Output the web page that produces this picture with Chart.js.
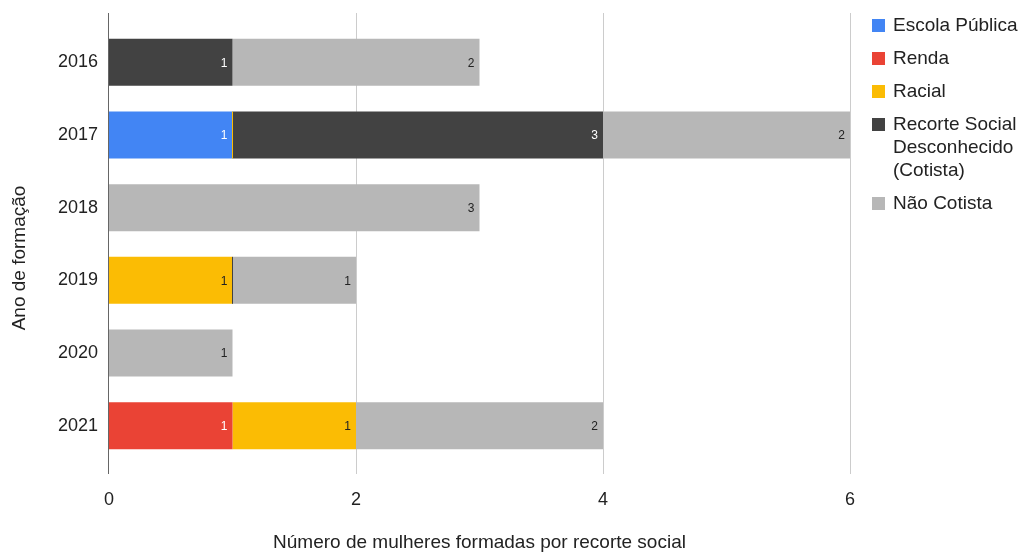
<!DOCTYPE html>
<html>
<head>
<meta charset="utf-8">
<script src="https://cdn.jsdelivr.net/npm/chart.js@4.4.1/dist/chart.umd.min.js"></script>
<style>
  html, body { margin: 0; padding: 0; background: #fff; }
</style>
</head>
<body>
<canvas id="chart" width="1024" height="553"></canvas>
<script>
// data
const years = ['2016', '2017', '2018', '2019', '2020', '2021'];
const escolaPublica = [null, 1, null, null, null, null];
const renda = [null, null, null, null, null, 1];
const racial = [null, 0, null, 1, null, 1];
const desconhecido = [1, 3, null, 0, null, null];
const naoCotista = [2, 2, 3, 1, 1, 2];
const xTicks = [0, 2, 4, 6];

const seriesNames = ['Escola Pública', 'Renda', 'Racial', 'Recorte Social\nDesconhecido\n(Cotista)', 'Não Cotista'];
const seriesData = [escolaPublica, renda, racial, desconhecido, naoCotista];
const seriesColors = ['#4285f4', '#ea4335', '#fbbc04', '#424242', '#b7b7b7'];
const labelColors = ['#ffffff', '#ffffff', '#222222', '#ffffff', '#222222'];

const FONT = 'Arial, "Liberation Sans", sans-serif';
const TEXT = '#222222';

// gridlines, axis line, value labels, legend, y title
const decor = {
  id: 'decor',
  beforeDatasetsDraw(chart) {
    const { ctx, chartArea, scales } = chart;
    ctx.save();
    ctx.lineWidth = 1;
    scales.x.ticks.forEach(t => {
      if (t.value === 0) return;
      const px = Math.round(scales.x.getPixelForValue(t.value)) + 0.5;
      ctx.strokeStyle = '#cccccc';
      ctx.beginPath();
      ctx.moveTo(px, chartArea.top - 13);
      ctx.lineTo(px, chartArea.bottom + 12);
      ctx.stroke();
    });
    ctx.restore();
  },
  afterDatasetsDraw(chart) {
    const { ctx, chartArea, scales } = chart;
    ctx.save();

    // zero-valued segments show as a hairline
    chart.data.datasets.forEach((ds, i) => {
      const meta = chart.getDatasetMeta(i);
      meta.data.forEach((el, j) => {
        const v = ds.data[j];
        if (v === null) return;
        if (v === 0) {
          ctx.fillStyle = ds.backgroundColor;
          ctx.fillRect(Math.round(el.x) - 1, el.y - el.height / 2, 1, el.height);
          return;
        }
        ctx.fillStyle = labelColors[i];
        ctx.font = '12px ' + FONT;
        ctx.textAlign = 'right';
        ctx.textBaseline = 'middle';
        ctx.fillText(String(v), el.x - 5, el.y + 1);
      });
    });

    // zero axis line
    const x0 = Math.round(scales.x.getPixelForValue(0)) - 0.5;
    ctx.strokeStyle = '#666666';
    ctx.lineWidth = 1;
    ctx.beginPath();
    ctx.moveTo(x0, chartArea.top - 13);
    ctx.lineTo(x0, chartArea.bottom + 12);
    ctx.stroke();

    // y axis title
    ctx.save();
    ctx.translate(20, (chartArea.top + chartArea.bottom) / 2 + 14);
    ctx.rotate(-Math.PI / 2);
    ctx.fillStyle = TEXT;
    ctx.font = '19px ' + FONT;
    ctx.textAlign = 'center';
    ctx.textBaseline = 'middle';
    ctx.fillText('Ano de formação', 0, 0);
    ctx.restore();

    // legend
    let y = 25;
    const lx = chartArea.right + 22;
    seriesNames.forEach((name, i) => {
      ctx.fillStyle = seriesColors[i];
      ctx.fillRect(lx, y - 6, 13, 13);
      ctx.fillStyle = TEXT;
      ctx.font = '19px ' + FONT;
      ctx.textAlign = 'left';
      ctx.textBaseline = 'middle';
      const lines = name.split('\n');
      lines.forEach((line, k) => {
        ctx.fillText(line, lx + 21, y + 1);
        if (k < lines.length - 1) y += 23;
      });
      y += 33;
    });

    ctx.restore();
  }
};

new Chart(document.getElementById('chart'), {
  type: 'bar',
  data: {
    labels: years,
    datasets: seriesData.map((d, i) => ({
      label: seriesNames[i].replace(/\n/g, ' '),
      data: d,
      backgroundColor: seriesColors[i],
      borderWidth: 0,
      barPercentage: 0.646,
      categoryPercentage: 1
    }))
  },
  options: {
    indexAxis: 'y',
    responsive: false,
    animation: false,
    layout: { padding: { top: 26, right: 174, bottom: 0, left: 0 } },
    plugins: {
      legend: { display: false },
      tooltip: { enabled: false }
    },
    scales: {
      x: {
        stacked: true,
        min: 0,
        max: 6,
        grid: { display: false, drawTicks: false },
        border: { display: false },
        afterBuildTicks: s => { s.ticks = xTicks.map(v => ({ value: v })); },
        ticks: { color: TEXT, font: { size: 18, family: FONT }, padding: 27 },
        title: {
          display: true,
          text: 'Número de mulheres formadas por recorte social',
          color: TEXT,
          font: { size: 19, family: FONT, lineHeight: 1.1 },
          padding: { top: 0, bottom: 0 }
        },
        afterFit: s => { s.height = 91; }
      },
      y: {
        stacked: true,
        grid: { display: false, drawTicks: false },
        border: { display: false },
        ticks: { color: TEXT, font: { size: 18, family: FONT }, padding: 11 },
        afterFit: s => { s.width = 109; }
      }
    }
  },
  plugins: [decor]
});
</script>
</body>
</html>
